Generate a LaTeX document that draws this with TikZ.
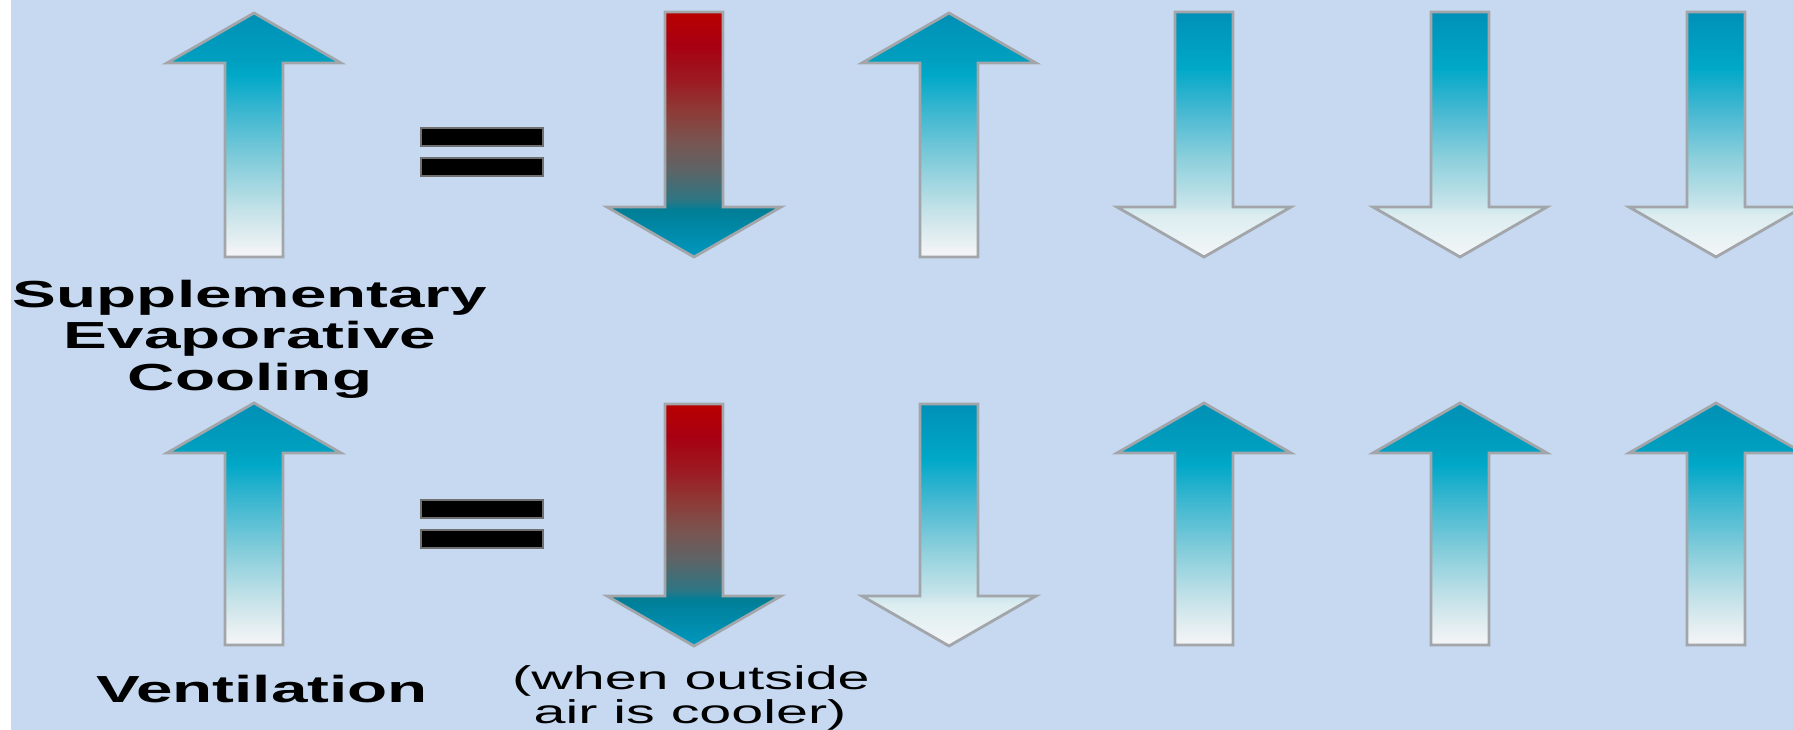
\documentclass[tikz,border=0pt]{standalone}
\usepackage{fontspec}
\setmainfont{Liberation Sans}
\definecolor{bg}{RGB}{198,217,240}
\definecolor{outl}{HTML}{A2A6AA}
\definecolor{eqedge}{HTML}{707070}
% up blue arrow
\definecolor{ua}{HTML}{F2F4F6}
\definecolor{ub}{HTML}{F0F3F5}
\definecolor{uc}{HTML}{C4E2E8}
\definecolor{ud}{HTML}{82CCDA}
\definecolor{ue}{HTML}{3AB6D0}
\definecolor{uf}{HTML}{00A8C8}
\definecolor{ug}{HTML}{00A0C0}
\definecolor{uh}{HTML}{0090B5}
% down blue arrow, white head
\definecolor{da}{HTML}{F4F6F8}
\definecolor{db}{HTML}{DCEDF0}
\definecolor{dc}{HTML}{C8E4EA}
\definecolor{dd}{HTML}{8ED0DC}
\definecolor{de}{HTML}{45B8D2}
\definecolor{df}{HTML}{00A8C8}
\definecolor{dg}{HTML}{009CC0}
\definecolor{dh}{HTML}{0090B8}
% red arrow
\definecolor{ra}{HTML}{0098C0}
\definecolor{rb}{HTML}{007E96}
\definecolor{rc}{HTML}{2E7684}
\definecolor{rd}{HTML}{5E6466}
\definecolor{re}{HTML}{7A5450}
\definecolor{rf}{HTML}{8E3A36}
\definecolor{rg}{HTML}{9C1A22}
\definecolor{rh}{HTML}{A80012}
\definecolor{ri}{HTML}{B80000}
\pgfdeclareverticalshading{upblue}{100bp}{color(0bp)=(ua); color(25bp)=(ua); color(26.4bp)=(ub); color(34.6bp)=(uc); color(44.9bp)=(ud); color(55.1bp)=(ue); color(62.3bp)=(uf); color(65bp)=(ug); color(75bp)=(uh); color(100bp)=(uh)}
\pgfdeclareverticalshading{dnblue}{100bp}{color(0bp)=(da); color(25bp)=(da); color(33.6bp)=(db); color(35.6bp)=(dc); color(44.8bp)=(dd); color(55bp)=(de); color(63.6bp)=(df); color(69.3bp)=(dg); color(75bp)=(dh); color(100bp)=(dh)}
\pgfdeclareverticalshading{dnred}{100bp}{color(0bp)=(ra); color(25bp)=(ra); color(34.6bp)=(rb); color(36.6bp)=(rc); color(42.8bp)=(rd); color(48.9bp)=(re); color(55bp)=(rf); color(61.1bp)=(rg); color(68.3bp)=(rh); color(75bp)=(ri); color(100bp)=(ri)}
\tikzset{
  arrline/.style={draw=outl, line width=0.8pt, line join=miter},
  eqbar/.style={fill=black, draw=eqedge, line width=0.6pt},
  boldlbl/.style={anchor=base, inner sep=0pt, font=\fontsize{10.73pt}{12pt}\selectfont\bfseries},
  reglbl/.style={anchor=base, inner sep=0pt, font=\fontsize{9.39pt}{11pt}\selectfont},
}
% #1 centre x, #2 tip y, #3 bottom y, #4 shading
\newcommand{\arrUp}[4]{%
  \shadedraw[shading=#4, arrline] (#1-29,#3) -- (#1-29,#2+50) -- (#1-87,#2+50) -- (#1,#2)
    -- (#1+87,#2+50) -- (#1+29,#2+50) -- (#1+29,#3) -- cycle;}
% #1 centre x, #2 top y, #3 tip y, #4 shading
\newcommand{\arrDown}[4]{%
  \shadedraw[shading=#4, arrline] (#1-29,#2) -- (#1-29,#3-50) -- (#1-87,#3-50) -- (#1,#3)
    -- (#1+87,#3-50) -- (#1+29,#3-50) -- (#1+29,#2) -- cycle;}
\begin{document}
\begin{tikzpicture}[x=0.1mm, y=-0.1mm]
\useasboundingbox (0,0) rectangle (1793,730);
\clip (0,0) rectangle (1793,730);
\fill[white] (0,0) rectangle (12,730);
\fill[bg] (11,0) rectangle (1793,730);

% row 1
\arrUp{254}{13}{257}{upblue}
\draw[eqbar] (421,128) rectangle (543,146);
\draw[eqbar] (421,158) rectangle (543,176);
\arrDown{694}{12}{257}{dnred}
\arrUp{949}{13}{257}{upblue}
\arrDown{1204}{12}{257}{dnblue}
\arrDown{1460}{12}{257}{dnblue}
\arrDown{1716}{12}{257}{dnblue}

% labels
\node[boldlbl] (sup1) at (250,308) {\scalebox{1.74}[1]{Supplementary}};
\node[boldlbl] (sup2) at (250,349) {\scalebox{1.74}[1]{Evaporative}};
\node[boldlbl] (sup3) at (250,390) {\scalebox{1.74}[1]{Cooling}};

% row 2
\arrUp{254}{403}{645}{upblue}
\draw[eqbar] (421,500) rectangle (543,518);
\draw[eqbar] (421,530) rectangle (543,548);
\arrDown{694}{404}{646}{dnred}
\arrDown{949}{404}{646}{dnblue}
\arrUp{1204}{403}{645}{upblue}
\arrUp{1460}{403}{645}{upblue}
\arrUp{1716}{403}{645}{upblue}

\node[boldlbl] (vent) at (262,702) {\scalebox{1.74}[1]{Ventilation}};
\node[reglbl] (when1) at (691,689) {\scalebox{1.74}[1]{(when outside}};
\node[reglbl] (when2) at (690,723) {\scalebox{1.74}[1]{air is cooler)}};
\end{tikzpicture}
\end{document}
